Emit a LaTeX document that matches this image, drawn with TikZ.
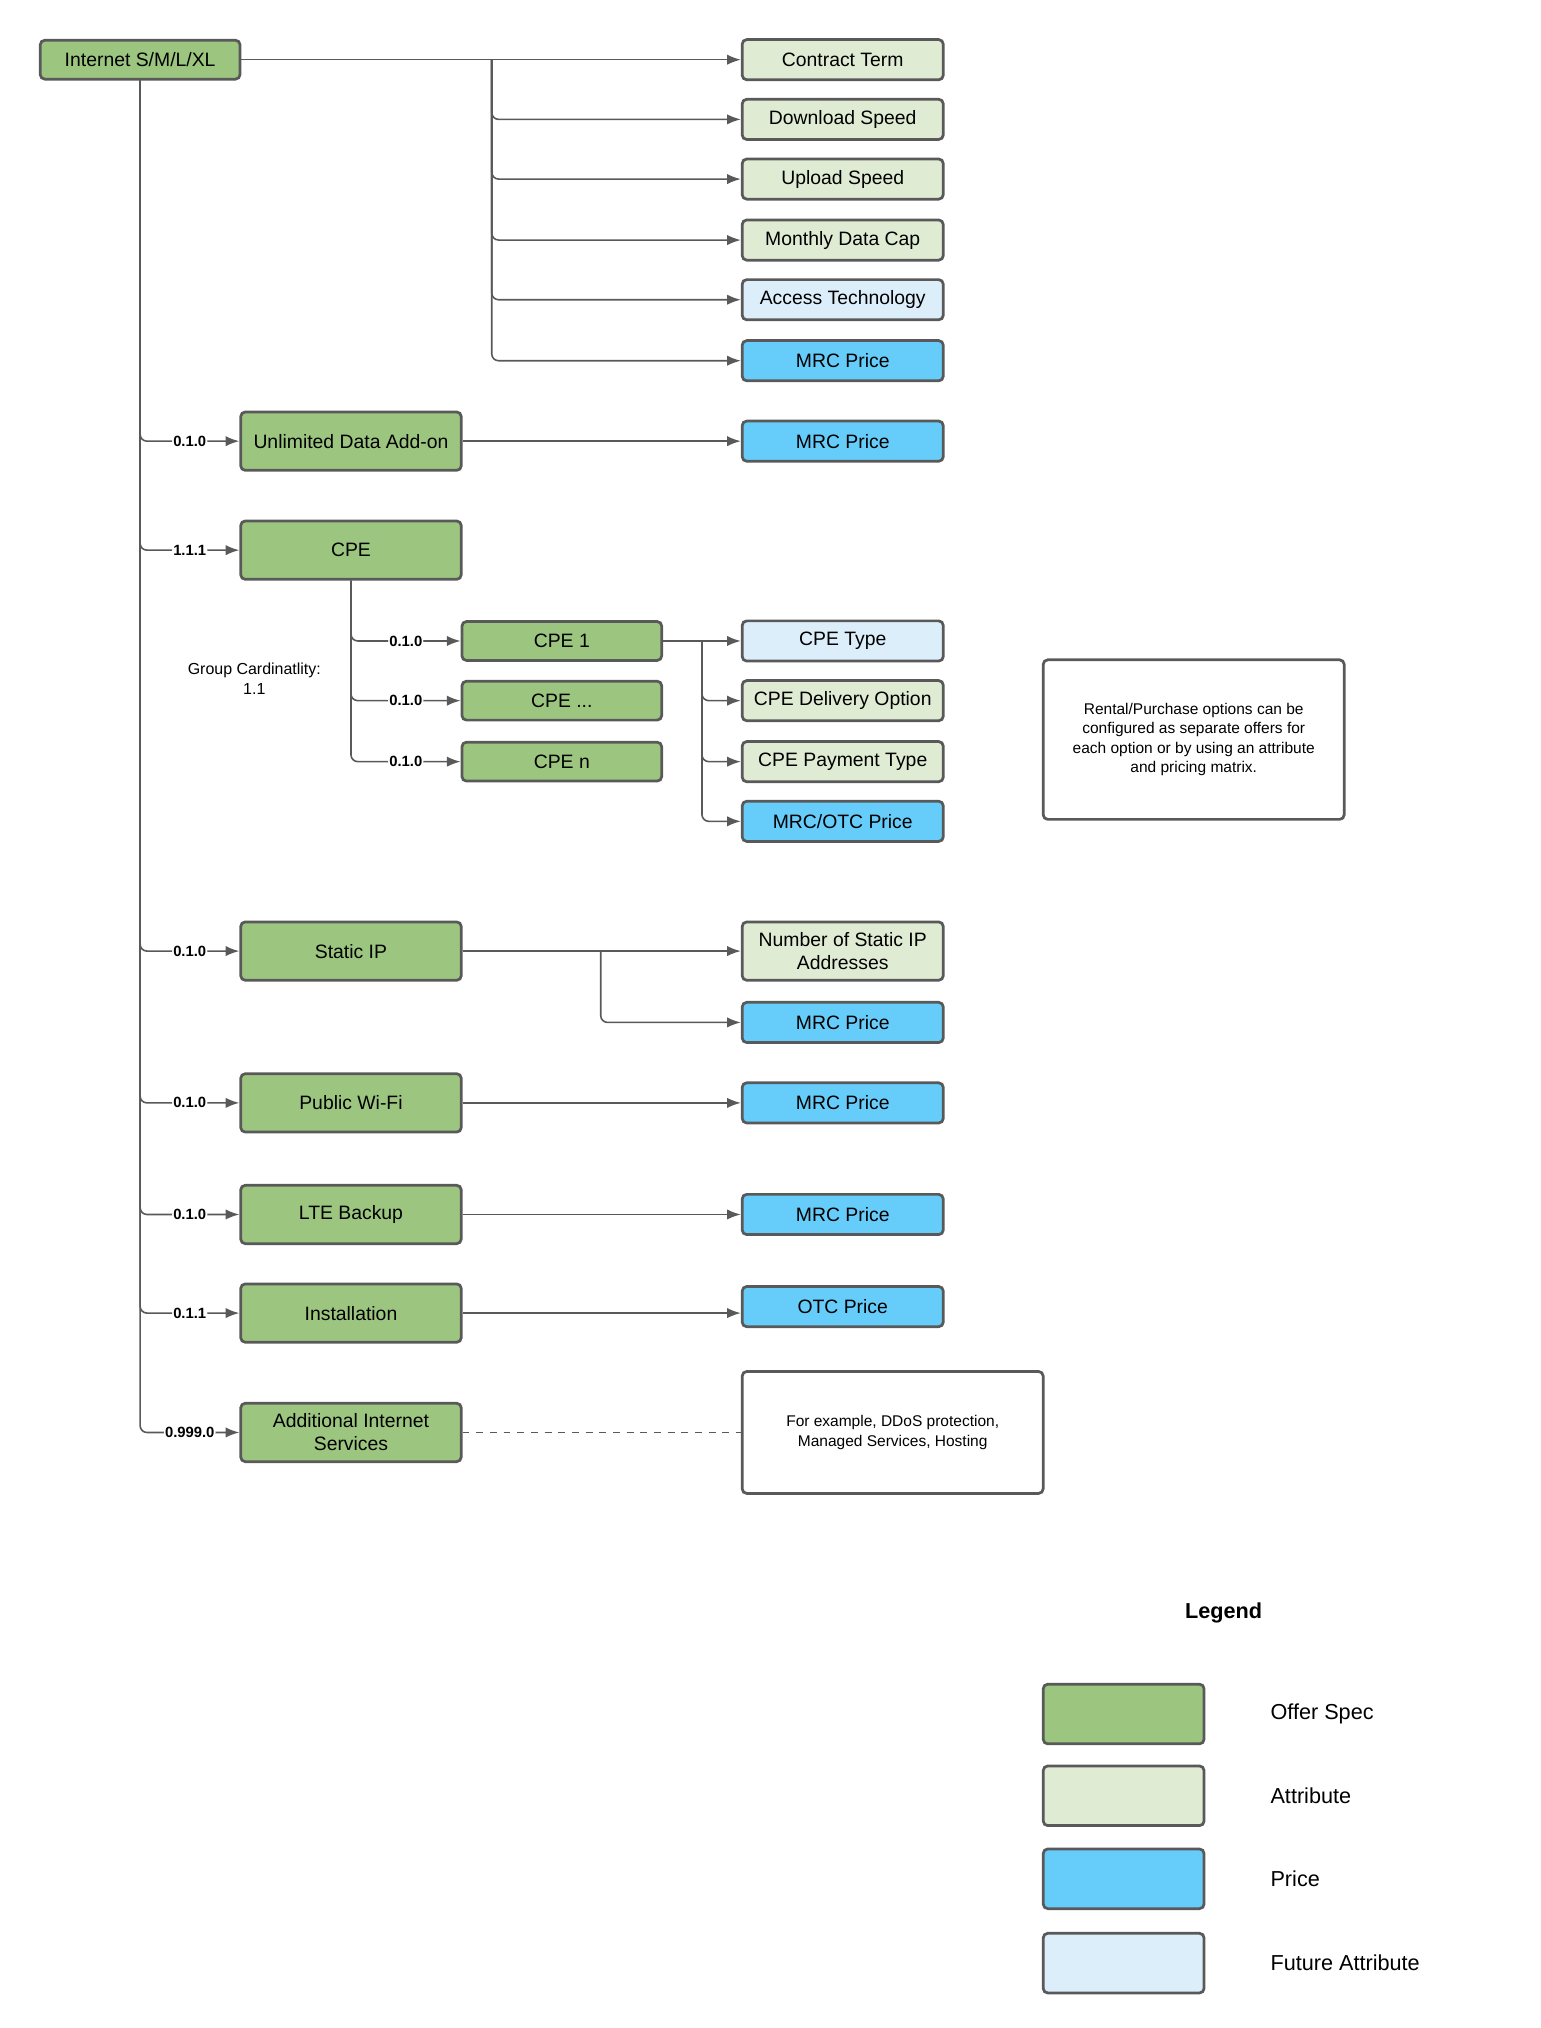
\documentclass[tikz,border=0pt]{standalone}
\usepackage{fontspec}
\setmainfont{Liberation Sans}
\usetikzlibrary{arrows.meta}
\definecolor{offer}{HTML}{9CC680}
\definecolor{attr}{HTML}{E0EBD4}
\definecolor{price}{HTML}{66CCFA}
\definecolor{future}{HTML}{DDEEFB}
\definecolor{edge}{HTML}{595959}
\tikzset{
  box/.style={draw=edge,line width=1.2pt,rounded corners=2pt,align=center,
    font=\fontsize{8.5}{10}\selectfont,inner sep=1pt},
  spec/.style={box,fill=offer,minimum width=3.4cm,minimum height=0.9cm},
  att/.style={box,fill=attr,minimum width=3.1cm,minimum height=0.62cm},
  prc/.style={box,fill=price,minimum width=3.1cm,minimum height=0.62cm},
  fut/.style={box,fill=future,minimum width=3.1cm,minimum height=0.62cm},
  conn/.style={draw=edge,line width=0.7pt,rounded corners=3pt,-{Latex[length=6pt,width=4.5pt]}},
  card/.style={fill=white,inner sep=0.5pt,font=\bfseries\fontsize{6.5}{7}\selectfont},
  note/.style={draw=edge,line width=1.2pt,rounded corners=2pt,align=center,
    font=\fontsize{6.8}{8.5}\selectfont,fill=white}
}
\begin{document}
\begin{tikzpicture}[x=0.02cm,y=-0.02cm]
\useasboundingbox (0,0) rectangle (1187,1563);
% root and its attributes
\node[spec,minimum width=3.08cm,minimum height=0.6cm] (root) at (108,46) {Internet S/M/L/XL};
\node[att] (term) at (649.5,46) {Contract Term};
\node[att] (down) at (649.5,92) {Download Speed};
\node[att] (up) at (649.5,138) {Upload Speed};
\node[att] (cap) at (649.5,185) {Monthly Data Cap};
\node[fut] (tech) at (649.5,231) {Access Technology};
\node[prc] (mrc0) at (649.5,278) {MRC Price};
\coordinate (rj) at (379,46);
\draw[conn] (root.east) -- (term.west);
\foreach \n in {down,up,cap,tech,mrc0}
  \draw[conn] (rj) |- (\n.west);
% child offers
\node[spec] (unl) at (270.5,340) {Unlimited Data Add-on};
\node[spec] (cpe) at (270.5,424) {CPE};
\node[spec] (sip) at (270.5,733) {Static IP};
\node[spec] (wifi) at (270.5,850) {Public Wi-Fi};
\node[spec] (lte) at (270.5,936) {LTE Backup};
\node[spec] (inst) at (270.5,1012) {Installation};
\node[spec] (more) at (270.5,1104) {Additional Internet\\Services};
\foreach \n/\c in {unl/0.1.0,cpe/1.1.1,sip/0.1.0,wifi/0.1.0,lte/0.1.0,inst/0.1.1,more/0.999.0}
  \draw[conn] (root.south) |- node[card,pos=0.75] {\c} (\n.west);
\node[prc] (mrc1) at (649.5,340) {MRC Price};
\draw[conn] (unl.east) -- (mrc1.west);
% CPE
\node[spec,minimum width=3.08cm,minimum height=0.6cm] (cpe1) at (433,494) {CPE 1};
\node[spec,minimum width=3.08cm,minimum height=0.6cm] (cpe2) at (433,540) {CPE ...};
\node[spec,minimum width=3.08cm,minimum height=0.6cm] (cpe3) at (433,587) {CPE n};
\foreach \n in {cpe1,cpe2,cpe3}
  \draw[conn] (cpe.south) |- node[card,pos=0.75] {0.1.0} (\n.west);
\node[align=center,font=\fontsize{7}{8.5}\selectfont] (grp) at (196,523) {Group Cardinatlity:\\1.1};
\node[fut] (ctype) at (649.5,494) {CPE Type};
\node[att] (cdel) at (649.5,540) {CPE Delivery Option};
\node[att] (cpay) at (649.5,587) {CPE Payment Type};
\node[prc] (cprc) at (649.5,633) {MRC/OTC Price};
\coordinate (cj) at (541,494);
\draw[conn] (cpe1.east) -- (ctype.west);
\foreach \n in {cdel,cpay,cprc}
  \draw[conn] (cj) |- (\n.west);
\node[note,minimum width=4.64cm,minimum height=2.46cm] (rent) at (920,570)
  {Rental/Purchase options can be\\configured as separate offers for\\each option or by using an attribute\\and pricing matrix.};
% static IP and others
\node[att,minimum height=0.9cm] (nip) at (649.5,733) {Number of Static IP\\Addresses};
\node[prc] (mrc2) at (649.5,788) {MRC Price};
\coordinate (sj) at (463,733);
\draw[conn] (sip.east) -- (nip.west);
\draw[conn] (sj) |- (mrc2.west);
\node[prc] (mrc3) at (649.5,850) {MRC Price};
\draw[conn] (wifi.east) -- (mrc3.west);
\node[prc] (mrc4) at (649.5,936) {MRC Price};
\draw[conn] (lte.east) -- (mrc4.west);
\node[prc] (otc) at (649.5,1007) {OTC Price};
\draw[conn] (inst.east) -- (otc.west |- inst.east);
\node[note,minimum width=4.64cm,minimum height=1.88cm] (ex) at (688,1104)
  {For example, DDoS protection,\\Managed Services, Hosting};
\draw[draw=edge,line width=0.7pt,dashed] (more.east) -- (ex.west);
% legend
\node[font=\bfseries\fontsize{9.5}{11}\selectfont] (leg) at (943,1243) {Legend};
\foreach \s/\t/\y in {offer/Offer Spec/1321,attr/Attribute/1384,price/Price/1448,future/Future Attribute/1513}{
  \node[box,fill=\s,minimum width=2.48cm,minimum height=0.92cm] (l\s) at (866,\y) {};
  \node[anchor=west,font=\fontsize{9.5}{11}\selectfont] (t\s) at (973,\y) {\t};
}
\end{tikzpicture}
\end{document}
